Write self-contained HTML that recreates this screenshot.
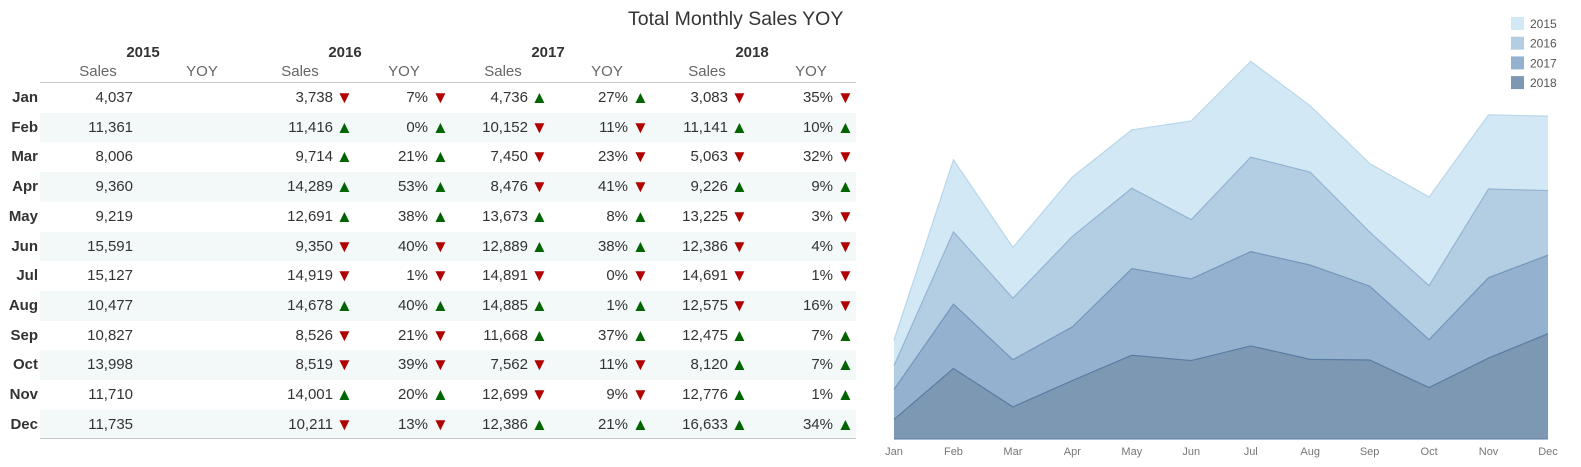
<!DOCTYPE html>
<html><head><meta charset="utf-8"><style>
body{margin:0;width:1581px;height:467px;background:#fff;font-family:"Liberation Sans",sans-serif;overflow:hidden;position:relative}
.a{position:absolute;white-space:nowrap}
.t{font-size:15px;color:#333}
.h{font-size:15px;color:#666}
.y{font-size:15px;font-weight:bold;color:#333}
.up{color:#006400}.dn{color:#b00000}
.ar{font-size:17px;line-height:17px}
</style></head><body>
<div class="a" style="left:628px;top:8px;font-size:19.5px;color:#333">Total Monthly Sales YOY</div>
<div id="tbl"></div>
<svg id="chart" width="1581" height="467" style="position:absolute;left:0;top:0"></svg>
<script>
const months=["Jan","Feb","Mar","Apr","May","Jun","Jul","Aug","Sep","Oct","Nov","Dec"];
const years=["2015","2016","2017","2018"];
const s2015=[4037,11361,8006,9360,9219,15591,15127,10477,10827,13998,11710,11735];
const s2016=[3738,11416,9714,14289,12691,9350,14919,14678,8526,8519,14001,10211];
const s2017=[4736,10152,7450,8476,13673,12889,14891,14885,11668,7562,12699,12386];
const s2018=[3083,11141,5063,9226,13225,12386,14691,12575,12475,8120,12776,16633];
const series=[s2015,s2016,s2017,s2018];
const colors=["#d3e8f5","#b3cde3","#94b2cf","#7d98b3"];
const strokes=["#b8d6ea","#93b4d2","#7496bb","#5a7ca3"];
const tbl=document.getElementById('tbl');
function add(txt,cls,l,t,w,align){const d=document.createElement('div');d.className='a '+cls;d.textContent=txt;d.style.left=l+'px';d.style.top=t+'px';if(w){d.style.width=w+'px';d.style.textAlign=align||'right';}tbl.appendChild(d);return d;}
const rowH=29.7,row0=83;
for(let i=0;i<12;i++){if(i%2==1){const b=document.createElement('div');b.className='a';b.style.cssText=`left:40px;top:${row0+i*rowH}px;width:816px;height:${rowH}px;background:#f3f8f8`;


tbl.appendChild(b);}}
const ln=(t)=>{const d=document.createElement('div');d.className='a';d.style.cssText=`left:40px;top:${t}px;width:816px;height:1px;background:#c8c8c8`;


tbl.appendChild(d);};
ln(82);ln(438);
const yc=[143,345,548,752];
years.forEach((y,k)=>{const d=add(y,'y',yc[k]-40,44,80,'center');


const s=add('Sales','h',yc[k]-80,63,70,'center');


const q=add('YOY','h',yc[k]+24,63,70,'center');

});
const salesR=[133,333,528,728],yoyR=[428,628,833];
months.forEach((m,i)=>{const t=row0+i*rowH+6;
const ml=add(m,'y',0,t,38);


series.forEach((s,k)=>{const v=add(s[i].toLocaleString('en-US'),'t',salesR[k]-90,t,90);


if(k>0){const p=series[k-1][i];const up=s[i]>=p;const ch=Math.round(Math.abs(s[i]-p)/p*100);
const a1=add(up?'▲':'▼','ar '+(up?'up':'dn'),salesR[k]+3,t);


const yv=add(ch+'%','t',yoyR[k-1]-60,t,60);


const a2=add(up?'▲':'▼','ar '+(up?'up':'dn'),yoyR[k-1]+4,t);

}});});
// chart
const svg=document.getElementById('chart');const NS='http://www.w3.org/2000/svg';
const x=i=>894+i*(1548-894)/11;const y=v=>439-v*380/60000;
const cum=[];for(let k=3;k>=0;k--){cum[k]=months.map((_,i)=>{let t=0;for(let j=k;j<4;j++)t+=series[j][i];return t;});}
for(let k=0;k<4;k++){const top=cum[k],bot=k<3?cum[k+1]:months.map(()=>0);
let d='M'+top.map((v,i)=>x(i)+','+y(v)).join(' L');for(let i=11;i>=0;i--)d+=' L'+x(i)+','+y(bot[i]);d+='Z';
const p=document.createElementNS(NS,'path');p.setAttribute('d',d);p.setAttribute('fill',colors[k]);


svg.appendChild(p);
const l=document.createElementNS(NS,'polyline');l.setAttribute('points',top.map((v,i)=>x(i)+','+y(v)).join(' '));l.setAttribute('fill','none');l.setAttribute('stroke',strokes[k]);l.setAttribute('stroke-width','1.2');


svg.appendChild(l);}
const ax=document.createElementNS(NS,'line');ax.setAttribute('x1',x(0));ax.setAttribute('x2',x(11));ax.setAttribute('y1',439);ax.setAttribute('y2',439);ax.setAttribute('stroke','#5a7ca3');


svg.appendChild(ax);
months.forEach((m,i)=>{const t=document.createElementNS(NS,'text');t.setAttribute('x',x(i));t.setAttribute('y',455);t.setAttribute('text-anchor','middle');t.setAttribute('font-size','11');t.setAttribute('fill','#777');t.setAttribute('font-family','Liberation Sans, sans-serif');t.textContent=m;


svg.appendChild(t);});
years.forEach((yr,k)=>{const r=document.createElementNS(NS,'rect');r.setAttribute('x',1511);r.setAttribute('y',17+k*19.7);r.setAttribute('width',13);r.setAttribute('height',13);r.setAttribute('fill',colors[k]);


svg.appendChild(r);
const t=document.createElementNS(NS,'text');t.setAttribute('x',1530);t.setAttribute('y',28+k*19.7);t.setAttribute('font-size','12');t.setAttribute('fill','#555');t.setAttribute('font-family','Liberation Sans, sans-serif');t.textContent=yr;


svg.appendChild(t);});
</script>
</body></html>
